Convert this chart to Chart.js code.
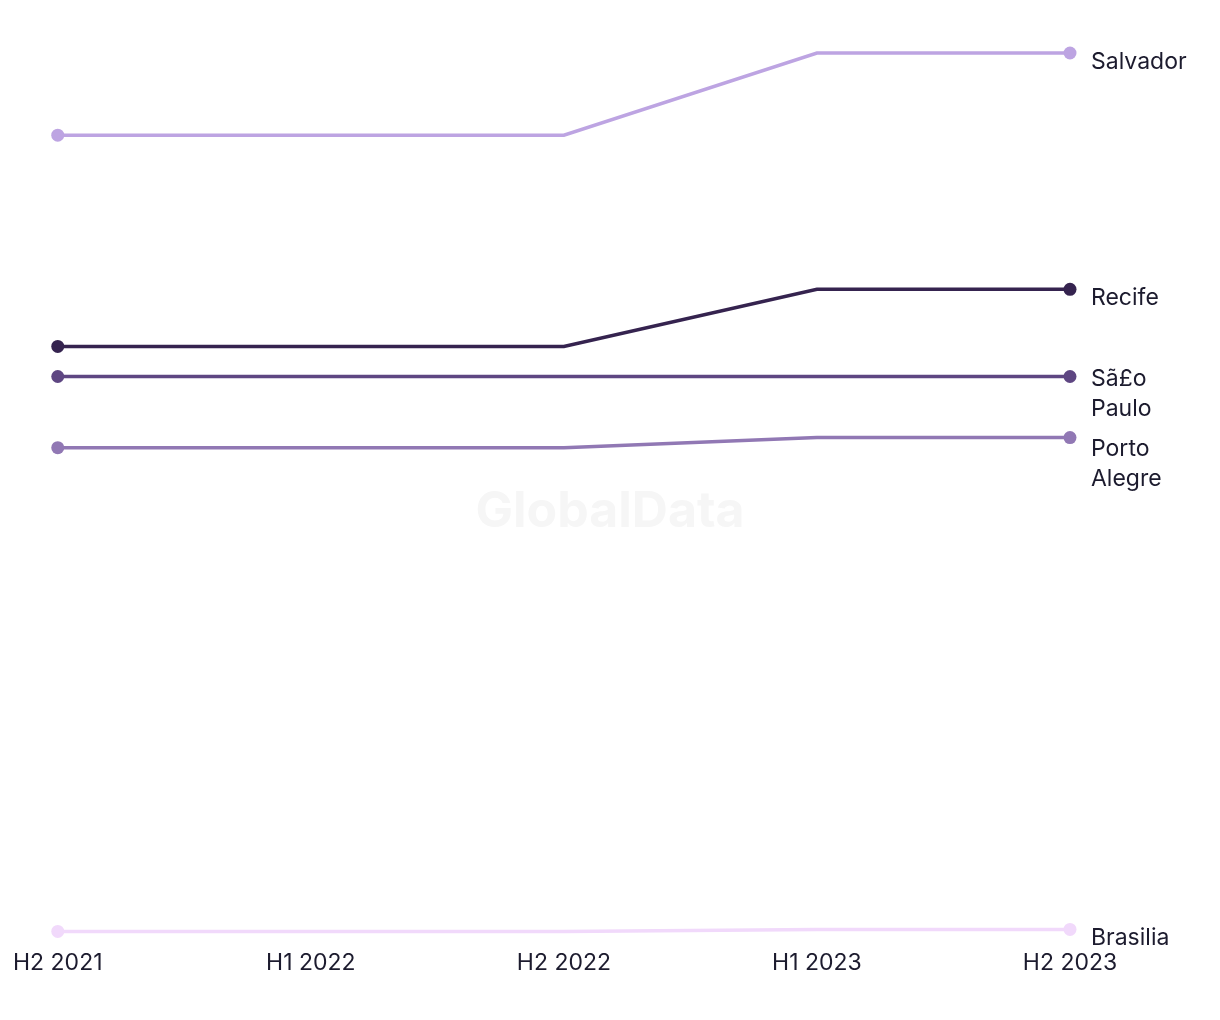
<!DOCTYPE html>
<html>
<head>
<meta charset="utf-8">
<script src="https://cdn.jsdelivr.net/npm/chart.js@4.4.1/dist/chart.umd.min.js"></script>
<style>
  html, body { margin: 0; padding: 0; background: #fff; }
  #wrap { width: 1220px; height: 1020px; }
</style>
</head>
<body>
<div id="wrap"><canvas id="cityChart" width="1220" height="1020"></canvas></div>
<script>
const periods = ['H2 2021', 'H1 2022', 'H2 2022', 'H1 2023', 'H2 2023'];

const cities = ['Salvador', 'Recife', 'Sã£o Paulo', 'Porto Alegre', 'Brasilia'];
const salvador    = [80.0, 80.0, 80.0, 88.2, 88.2];
const recife      = [58.9, 58.9, 58.9, 64.6, 64.6];
const saoPaulo    = [55.9, 55.9, 55.9, 55.9, 55.9];
const portoAlegre = [48.8, 48.8, 48.8, 49.8, 49.8];
const brasilia    = [0.5, 0.5, 0.5, 0.7, 0.7];

const COLORS = ['#bda4e2', '#35234f', '#5e4682', '#9178b4', '#f1d9fb'];
const seriesList = [salvador, recife, saoPaulo, portoAlegre, brasilia];
const TEXT = '#1c1b2e';
const FONT = 'Inter, "Noto Sans", sans-serif';

// city names next to the last point, wrapped on spaces; pushed down if they'd overlap
const endLabels = {
  id: 'endLabels',
  afterDatasetsDraw(chart) {
    const ctx = chart.ctx;
    ctx.save();
    ctx.font = `23px ${FONT}`;
    ctx.fillStyle = TEXT;
    ctx.textAlign = 'left';
    ctx.textBaseline = 'middle';
    const items = chart.data.datasets.map((ds, i) => {
      const meta = chart.getDatasetMeta(i);
      const pt = meta.data[meta.data.length - 1];
      const lines = ds.label.split(' ');
      return { x: pt.x + 21, y: pt.y + (lines.length === 1 ? 9 : 3), lines };
    }).sort((a, b) => a.y - b.y);
    let lastBottom = -Infinity;
    items.forEach(it => {
      const y0 = Math.max(it.y, lastBottom + 40);
      it.lines.forEach((ln, j) => ctx.fillText(ln, it.x, y0 + j * 30));
      lastBottom = y0 + (it.lines.length - 1) * 30;
    });
    ctx.restore();
  }
};

const watermark = {
  id: 'watermark',
  beforeDatasetsDraw(chart) {
    const ctx = chart.ctx;
    ctx.save();
    ctx.font = `bold 50px ${FONT}`;
    ctx.fillStyle = '#f6f6f6';
    ctx.textAlign = 'center';
    ctx.textBaseline = 'middle';
    ctx.fillText('GlobalData', 610, 512);
    ctx.restore();
  }
};

new Chart(document.getElementById('cityChart'), {
  type: 'line',
  data: {
    labels: periods,
    datasets: cities.map((c, i) => ({
      label: c,
      data: seriesList[i],
      borderColor: COLORS[i],
      backgroundColor: COLORS[i],
      borderWidth: 3.5,
      pointRadius: [6.5, 0, 0, 0, 6.5],
      pointHoverRadius: 0,
      pointBorderWidth: 0,
      tension: 0,
      fill: false,
      clip: false
    })).reverse()
  },
  options: {
    responsive: false,
    animation: false,
    devicePixelRatio: 1,
    layout: { padding: { left: 4, right: 150, top: 53, bottom: 30 } },
    plugins: { legend: { display: false }, tooltip: { enabled: false } },
    scales: {
      x: {
        offset: false,
        grid: { display: false, drawTicks: false },
        border: { display: false },
        ticks: { color: TEXT, font: { family: FONT, size: 23 }, padding: 13, maxRotation: 0, autoSkip: false }
      },
      y: {
        display: false,
        min: 0,
        max: 88.2
      }
    }
  },
  plugins: [watermark, endLabels]
});
</script>
</body>
</html>
